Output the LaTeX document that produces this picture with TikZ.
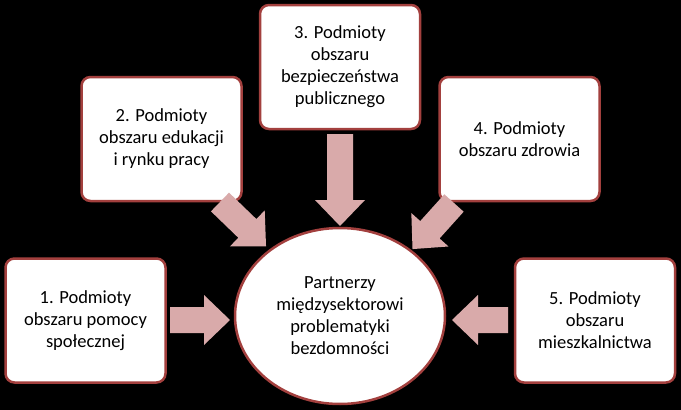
\documentclass[tikz,border=0pt]{standalone}
\usepackage{fontspec}
\setmainfont{Carlito}
\usetikzlibrary{shapes.geometric}
\begin{document}
\begin{tikzpicture}[x=1pt,y=-1pt,
  box/.style={draw=boxred,line width=2.5pt,fill=white,rounded corners=9pt,minimum width=160pt,minimum height=124pt,align=center,font=\fontsize{18.5}{22}\selectfont,text=black},
  barrow/.pic={\fill[arrowpink] (0,-13)--(#1-26,-13)--(#1-26,-25)--(#1,0)--(#1-26,25)--(#1-26,13)--(0,13)--cycle;}]
\definecolor{boxred}{HTML}{A3403E}
\definecolor{arrowpink}{HTML}{D9AAAA}
\fill[black] (0,0) rectangle (681,410);
\node[box] (b1) at (85.5,320.5) {1. Podmioty\\obszaru pomocy\\społecznej};
\node[box] (b2) at (161.5,139) {2. Podmioty\\obszaru edukacji\\i rynku pracy};
\node[box] (b3) at (340,67) {3. Podmioty\\obszaru\\bezpieczeństwa\\publicznego};
\node[box] (b4) at (519.5,139) {4. Podmioty\\obszaru zdrowia};
\node[box] (b5) at (595,320.5) {5. Podmioty\\obszaru\\mieszkalnictwa};
\node[draw=boxred,line width=2.5pt,fill=white,ellipse,minimum width=210pt,minimum height=176pt,inner sep=0pt,align=center,font=\fontsize{18.5}{22}\selectfont] (c) at (340,316) {Partnerzy\\międzysektorowi\\problematyki\\bezdomności};
\pic at (170,320) {barrow=60};
\pic[rotate=-44] at (220,202) {barrow=64};
\pic[rotate=-90] at (340,134) {barrow=92};
\pic[rotate=-132] at (454,203) {barrow=62};
\pic[rotate=180] at (508,320) {barrow=56};
\end{tikzpicture}
\end{document}
